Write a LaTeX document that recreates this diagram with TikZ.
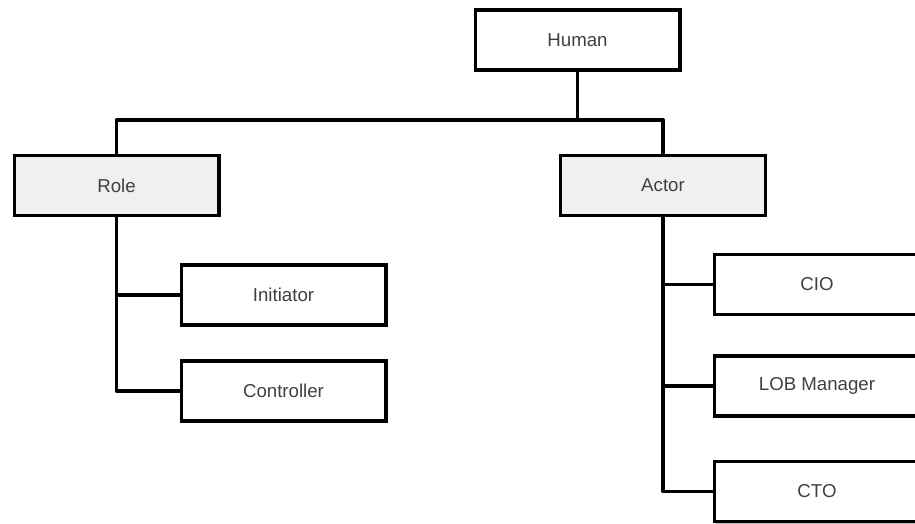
\documentclass[tikz,border=0pt]{standalone}
\usepackage{fontspec}
\setmainfont{Liberation Sans}
\usetikzlibrary{shadows}
\begin{document}
\begin{tikzpicture}[x=0.75pt,y=-0.75pt,
  box/.style={draw=black, line width=2.5pt, fill=white, text=black!75,
    minimum width=153.5pt, minimum height=45pt, inner sep=0pt,
    font=\fontsize{14pt}{16pt}\selectfont,
    drop shadow={shadow xshift=1.2pt, shadow yshift=-1.5pt, opacity=0.25, fill=black}},
  groupbox/.style={box, fill=black!6},
  link/.style={draw=black, line width=2.5pt, line join=round}]
  \useasboundingbox (0,0) rectangle (915,524);
  \clip (0,0) rectangle (915,524);

  % top level
  \node[box] (human) at (577.5,40) {Human};

  % second level
  \node[groupbox] (role)  at (116.5,185.5) {Role};
  \node[groupbox] (actor) at (663,185.5) {Actor};

  % children of Role
  \node[box] (init) at (283.5,295) {Initiator};
  \node[box] (ctrl) at (283.5,391) {Controller};

  % children of Actor
  \node[box] (cio) at (817,284.5) {CIO};
  \node[box] (lob) at (817,386)   {LOB Manager};
  \node[box] (cto) at (817,491.5) {CTO};

  % connectors
  \coordinate (hub) at (577.5,120);
  \draw[link] (human.south) -- (hub);
  \draw[link] (hub) -| (role.north);
  \draw[link] (hub) -| (actor.north);

  \draw[link] (role.south) |- (init.west);
  \draw[link] (role.south) |- (ctrl.west);

  \draw[link] (actor.south) |- (cio.west);
  \draw[link] (actor.south) |- (lob.west);
  \draw[link] (actor.south) |- (cto.west);
\end{tikzpicture}
\end{document}
